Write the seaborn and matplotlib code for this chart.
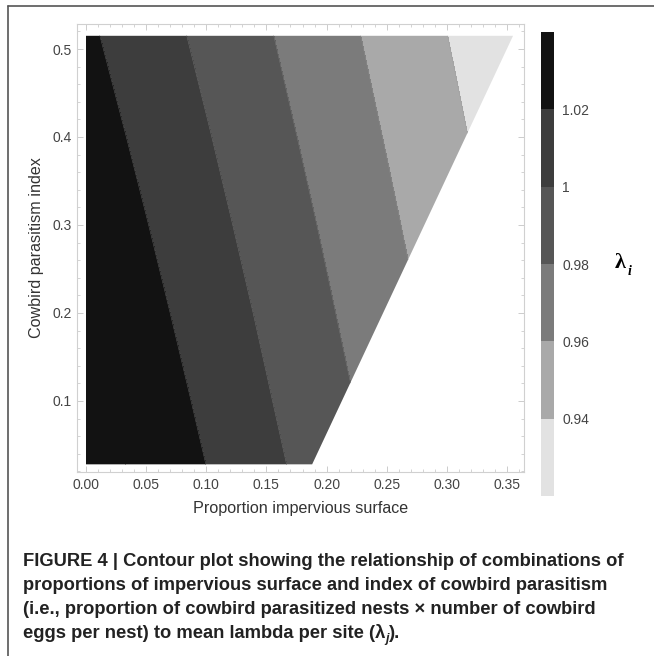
import numpy as np
import seaborn as sns
import matplotlib.pyplot as plt
from matplotlib.patches import Polygon
from matplotlib.lines import Line2D
from matplotlib.colors import ListedColormap, BoundaryNorm
from matplotlib.cm import ScalarMappable
from matplotlib.ticker import MultipleLocator

# lambda at grid nodes
x_grid = [0.00, 0.05, 0.10, 0.15, 0.20, 0.25, 0.30, 0.36]
y_grid = [0.028, 0.10, 0.20, 0.30, 0.40, 0.515]
lam = [
    [1.0497, 1.0348, 1.0199, 1.0050, 0.9901, 0.9752, 0.9603, 0.9424],
    [1.0458, 1.0310, 1.0163, 1.0015, 0.9868, 0.9721, 0.9573, 0.9396],
    [1.0403, 1.0258, 1.0113, 0.9968, 0.9822, 0.9677, 0.9532, 0.9358],
    [1.0349, 1.0206, 1.0063, 0.9920, 0.9777, 0.9634, 0.9491, 0.9319],
    [1.0294, 1.0154, 1.0013, 0.9872, 0.9731, 0.9590, 0.9450, 0.9281],
    [1.0232, 1.0094, 0.9955, 0.9817, 0.9679, 0.9540, 0.9402, 0.9236],
]

# region of the plot that has values (white outside)
domain_x = [0.0, 0.188, 0.355, 0.0]
domain_y = [0.028, 0.028, 0.515, 0.515]

levels = [0.92, 0.94, 0.96, 0.98, 1.00, 1.02, 1.04]
band_colors = ['#e2e2e2', '#a9a9a9', '#7b7b7b', '#565656', '#3d3d3d', '#121212']
cbar_ticks = [0.94, 0.96, 0.98, 1.00, 1.02]
cbar_labels = ['0.94', '0.96', '0.98', '1', '1.02']

caption = [
    "FIGURE 4 | Contour plot showing the relationship of combinations of",
    "proportions of impervious surface and index of cowbird parasitism",
    "(i.e., proportion of cowbird parasitized nests \u00d7 number of cowbird",
    "eggs per nest) to mean lambda per site (\u03bb",
]

sns.set_theme(style="white")
plt.rcParams['font.family'] = ['Liberation Sans', 'DejaVu Sans']

fig = plt.figure(figsize=(6.54, 6.56), dpi=100)
ax = fig.add_axes([0.1177, 0.2805, 0.6835, 0.6829])

cmap = ListedColormap(band_colors)
cmap.set_over(band_colors[-1])
cmap.set_under(band_colors[0])
norm = BoundaryNorm(levels, cmap.N)

X, Y = np.meshgrid(x_grid, y_grid)
Z = np.array(lam)
cs = ax.contourf(X, Y, Z, levels=levels, cmap=cmap, norm=norm, extend='both')
cl = ax.contour(X, Y, Z, levels=levels[1:-1], colors='#9a9a9a', linewidths=0.4, alpha=0.5)

clip = Polygon(np.column_stack([domain_x, domain_y]), closed=True,
               transform=ax.transData, facecolor='none', edgecolor='none')
ax.add_patch(clip)
cs.set_clip_path(clip)
cl.set_clip_path(clip)

ax.set_xlim(-0.0075, 0.3641)
ax.set_ylim(0.0193, 0.5284)
ax.xaxis.set_major_locator(MultipleLocator(0.05))
ax.xaxis.set_minor_locator(MultipleLocator(0.01))
ax.yaxis.set_major_locator(MultipleLocator(0.1))
ax.yaxis.set_minor_locator(MultipleLocator(0.02))
ax.xaxis.set_major_formatter(plt.FuncFormatter(lambda v, p: f"{v:.2f}"))
ax.yaxis.set_major_formatter(plt.FuncFormatter(lambda v, p: f"{v:.1f}"))
ax.tick_params(which='both', direction='in', top=True, right=True, bottom=True, left=True,
               color='#cccccc', labelcolor='#444444', labelsize=10)
ax.tick_params(which='major', length=4, width=0.7, pad=4)
ax.tick_params(which='minor', length=2, width=0.6)
for sp in ax.spines.values():
    sp.set_color('#d0d0d0')
    sp.set_linewidth(0.8)

ax.set_xlabel("Proportion impervious surface", fontsize=11.6, color='#333333', labelpad=7)
ax.set_ylabel("Cowbird parasitism index", fontsize=11.6, color='#333333', labelpad=6)

cax = fig.add_axes([0.8272, 0.2439, 0.0199, 0.7073])
cb = fig.colorbar(ScalarMappable(norm=norm, cmap=cmap), cax=cax, ticks=cbar_ticks,
                  boundaries=levels, extend='neither')
cb.set_ticklabels(cbar_labels)
cb.outline.set_linewidth(0)
cax.minorticks_off()
cax.tick_params(which='both', length=0, labelsize=10, labelcolor='#444444', pad=6)

fig.text(0.9404, 0.5915, "\u03bb", family='Liberation Serif', fontweight='bold',
         fontsize=16, color='black', ha='left', va='baseline')
fig.text(0.9602, 0.581, "i", family='Liberation Serif', fontweight='bold', style='italic',
         fontsize=10, color='black', ha='left', va='baseline')

# figure frame, left and top
fig.add_artist(Line2D([8 / 654, 8 / 654], [0, 1 - 6 / 656], color='#555555', lw=1.2))
fig.add_artist(Line2D([8 / 654, 1], [1 - 6 / 656, 1 - 6 / 656], color='#555555', lw=1.2))

base = [566, 590.5, 614.5, 638]
cap_size = 13.2
for line, b in zip(caption, base):
    t = fig.text(23 / 654, 1 - b / 656, line, fontsize=cap_size, fontweight='bold',
                 color='#222222', ha='left', va='baseline')
fig.canvas.draw()
bb = t.get_window_extent(fig.canvas.get_renderer())
t2 = fig.text(bb.x1 / fig.bbox.width, 1 - (base[3] + 4) / 656, "j", fontsize=9,
              fontweight='bold', style='italic', color='#222222', ha='left', va='baseline')
fig.canvas.draw()
bb2 = t2.get_window_extent(fig.canvas.get_renderer())
fig.text(bb2.x1 / fig.bbox.width, 1 - base[3] / 656, ").", fontsize=cap_size, fontweight='bold',
         color='#222222', ha='left', va='baseline')

fig.savefig('out.png', dpi=100)
